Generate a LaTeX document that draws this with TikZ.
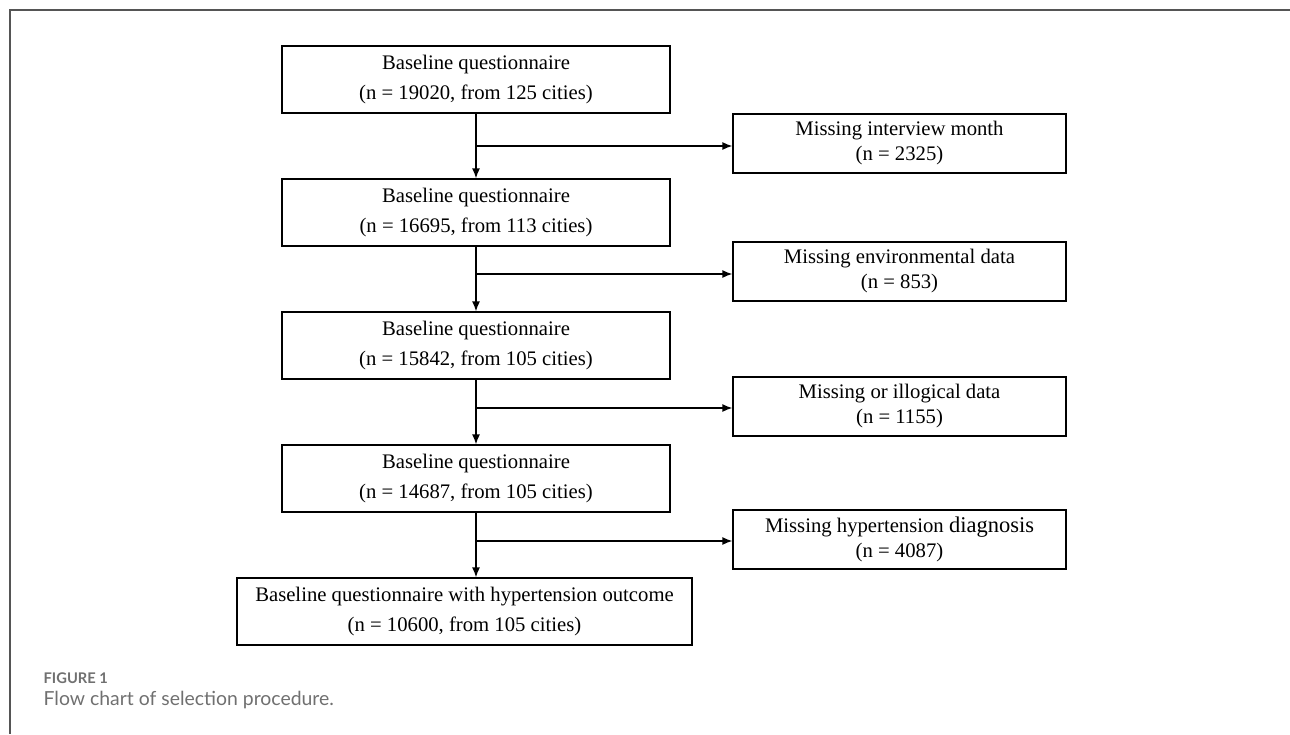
\documentclass[tikz,border=0pt]{standalone}
\usepackage{fontspec}
\setmainfont{Liberation Serif}
\newfontfamily\capfont{Lato}
\usetikzlibrary{arrows.meta}
\definecolor{framegray}{HTML}{555555}
\definecolor{capgray}{HTML}{707070}
\tikzset{
  mainbox/.style={draw,rectangle,minimum width=388pt,minimum height=67pt,inner sep=0pt,align=center,font=\fontsize{20.7}{30}\selectfont},
  sidebox/.style={draw,rectangle,minimum width=333pt,minimum height=59pt,inner sep=0pt,align=center,font=\fontsize{20.7}{25}\selectfont},
}
\begin{document}
\begin{tikzpicture}[x=1pt,y=-1pt,line width=1.3pt,node distance=133pt,>={Latex[length=10pt,width=8pt]}]
  \useasboundingbox (0,0) rectangle (1290,734);
  \draw [framegray,line width=1.5pt] (1290,10) -- (10,10) -- (10,734);
  \node (b1) [mainbox] at (476,79.5) {Baseline questionnaire\\(n = 19020, from 125 cities)};
  \node (b2) [mainbox,below of=b1] {Baseline questionnaire\\(n = 16695, from 113 cities)};
  \node (b3) [mainbox,below of=b2] {Baseline questionnaire\\(n = 15842, from 105 cities)};
  \node (b4) [mainbox,below of=b3] {Baseline questionnaire\\(n = 14687, from 105 cities)};
  \node (b5) [mainbox,below of=b4,xshift=-11.5pt,minimum width=455pt] {Baseline questionnaire with hypertension outcome\\(n = 10600, from 105 cities)};
  \node (m1) [sidebox] at (899.5,143.5) {Missing interview month\\(n = 2325)};
  \node (m2) [sidebox] at (899.5,271.5) {Missing environmental data\\(n = 853)};
  \node (m3) [sidebox] at (899.5,406.5) {Missing or illogical data\\(n = 1155)};
  \node (m4) [sidebox] at (899.5,539.5) {Missing hypertension {\fontsize{22.5}{25}\selectfont diagnosis}\\(n = 4087)};
  \coordinate (j1) at (476,146);
  \coordinate (j2) at (476,274);
  \coordinate (j3) at (476,408);
  \coordinate (j4) at (476,541);
  \draw [->] (b1) -- (b2);
  \draw [->] (b2) -- (b3);
  \draw [->] (b3) -- (b4);
  \draw [->] (b4.south) -- (b4.south |- b5.north);
  \draw [->] (j1) -- (j1 -| m1.west);
  \draw [->] (j2) -- (j2 -| m2.west);
  \draw [->] (j3) -- (j3 -| m3.west);
  \draw [->] (j4) -- (j4 -| m4.west);
  % caption
  \node (fig) [anchor=base west,inner sep=0pt,text=capgray,font=\capfont\bfseries\fontsize{14.7}{16}\selectfont] at (43,683) {FIGURE 1};
  \node (cap) [anchor=base west,inner sep=0pt,text=capgray,font=\capfont\fontsize{19.4}{21}\selectfont] at (43,705) {Flow chart of selection procedure.};
\end{tikzpicture}
\end{document}
